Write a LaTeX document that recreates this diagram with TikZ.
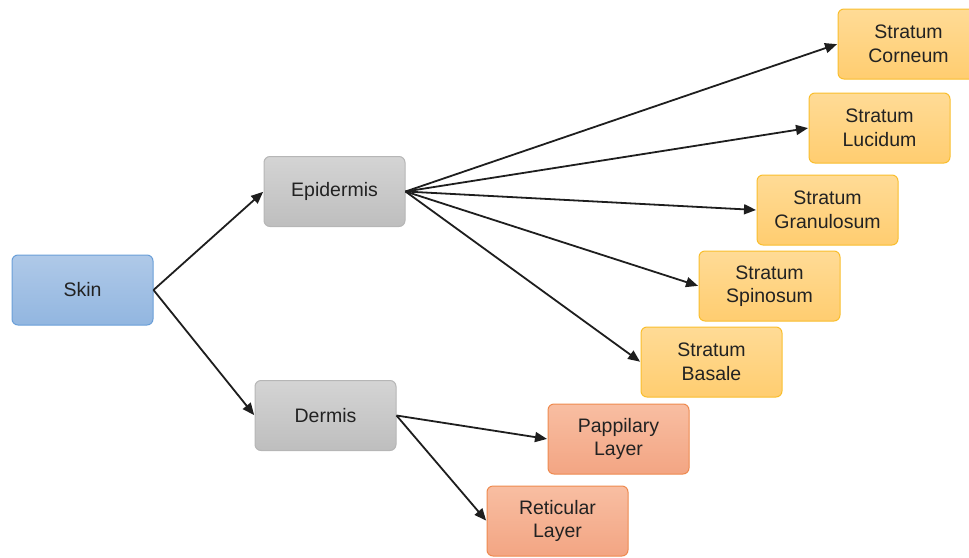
\documentclass[tikz,border=0pt]{standalone}
\usepackage{fontspec}
\setmainfont{Liberation Sans}
\usetikzlibrary{arrows.meta}
\definecolor{txt}{HTML}{222222}
\tikzset{
  box/.style={rounded corners=6pt, minimum width=141pt, minimum height=70pt,
    inner sep=0pt, align=center, text=txt, line width=1pt,
    font=\fontsize{19.5}{23.5}\selectfont},
  bluebox/.style={box, draw=blue!0!black!0!white, draw={rgb,255:red,106;green,159;blue,216}, top color={rgb,255:red,175;green,201;blue,232}, bottom color={rgb,255:red,146;green,182;blue,224}},
  greybox/.style={box, draw={rgb,255:red,182;green,182;blue,182}, top color={rgb,255:red,212;green,212;blue,212}, bottom color={rgb,255:red,190;green,190;blue,190}},
  yellowbox/.style={box, draw={rgb,255:red,249;green,190;blue,45}, top color={rgb,255:red,255;green,219;blue,150}, bottom color={rgb,255:red,255;green,205;blue,112}},
  orangebox/.style={box, draw={rgb,255:red,238;green,138;blue,79}, top color={rgb,255:red,248;green,190;blue,162}, bottom color={rgb,255:red,243;green,165;blue,131}},
  arr/.style={draw={rgb,255:red,30;green,30;blue,30}, line width=1.8pt, -{Triangle[length=12pt,width=10pt]}, shorten >=0.5pt}
}
\begin{document}
\begin{tikzpicture}[x=1pt,y=-1pt]
\useasboundingbox (0,0) rectangle (969,557);
\node[bluebox] (skin) at (82.5,290) {Skin};
\node[greybox] (epi) at (334.5,191.5) {Epidermis};
\node[greybox] (der) at (325.5,415.5) {Dermis};
\node[yellowbox] (cor) at (908.5,44) {Stratum\\Corneum};
\node[yellowbox] (luc) at (879.5,128) {Stratum\\Lucidum};
\node[yellowbox] (gra) at (827.5,210) {Stratum\\Granulosum};
\node[yellowbox] (spi) at (769.5,286) {Stratum\\Spinosum};
\node[yellowbox] (bas) at (711.5,362) {Stratum\\Basale};
\node[orangebox] (pap) at (618.5,439) {Pappilary\\Layer};
\node[orangebox] (ret) at (557.5,521) {Reticular\\Layer};
\draw[arr] (skin.east) -- (epi.west);
\draw[arr] (skin.east) -- (der.west);
\draw[arr] (epi.east) -- (cor.west);
\draw[arr] (epi.east) -- (luc.west);
\draw[arr] (epi.east) -- (gra.west);
\draw[arr] (epi.east) -- (spi.west);
\draw[arr] (epi.east) -- (bas.west);
\draw[arr] (der.east) -- (pap.west);
\draw[arr] (der.east) -- (ret.west);
\end{tikzpicture}
\end{document}
